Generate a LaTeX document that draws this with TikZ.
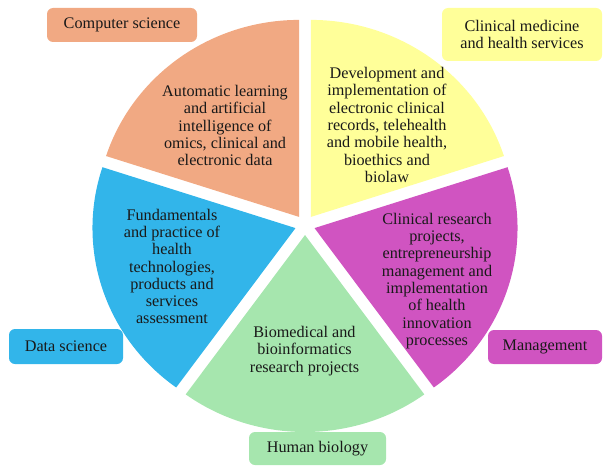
\documentclass[tikz,border=0pt]{standalone}
\usepackage{fontspec}
\setmainfont{Liberation Serif}
\definecolor{cOrange}{RGB}{241,169,131}
\definecolor{cYellow}{RGB}{255,255,153}
\definecolor{cBlue}{RGB}{50,181,234}
\definecolor{cMagenta}{RGB}{208,84,193}
\definecolor{cGreen}{RGB}{166,230,174}
\tikzset{
  txt/.style={align=center, font=\fontsize{16.2}{17.3}\selectfont, inner sep=0pt, text=black!90},
  lab/.style={rounded corners=6pt, inner sep=0pt, align=center,
    font=\fontsize{16.2}{17.3}\selectfont, text=black!90},
}
\newcommand{\pieSector}[2]{%
  \fill[#2] ($(305,242)+(#1:10pt)$) -- ++(#1+36:203pt and 197pt)
    arc[start angle=#1+36, delta angle=-72, x radius=203pt, y radius=197pt] -- cycle;}
\usetikzlibrary{calc}
\begin{document}
\begin{tikzpicture}[x=1pt,y=1pt]
\useasboundingbox (0,0) rectangle (608,467);
\pieSector{54}{cYellow}
\pieSector{126}{cOrange}
\pieSector{198}{cBlue}
\pieSector{270}{cGreen}
\pieSector{342}{cMagenta}

\node[txt] (torange) at (225,341.5) {Automatic learning\\and artificial\\intelligence of\\omics, clinical and\\electronic data};
\node[txt] (tyellow) at (387,342) {Development and\\implementation of\\electronic clinical\\records, telehealth\\and mobile health,\\bioethics and\\biolaw};
\node[txt] (tblue) at (172,200.5) {Fundamentals\\and practice of\\health\\technologies,\\products and\\services\\assessment};
\node[txt] (tmagenta) at (437,186) {Clinical research\\projects,\\entrepreneurship\\management and\\implementation\\of health\\innovation\\processes};
\node[txt] (tgreen) at (304.5,116) {Biomedical and\\bioinformatics\\research projects};

\node[lab, fill=cOrange, minimum width=150pt, minimum height=34pt] (lcs) at (122,442) {Computer science};
\node[lab, fill=cYellow, minimum width=160pt, minimum height=53pt] (lcm) at (522,432.5) {Clinical medicine\\and health services};
\node[lab, fill=cBlue, minimum width=114pt, minimum height=35pt] (lds) at (66,120.5) {Data science};
\node[lab, fill=cMagenta, minimum width=114pt, minimum height=34pt] (lmg) at (545,120) {Management};
\node[lab, fill=cGreen, minimum width=137pt, minimum height=33pt] (lhb) at (317.5,18.5) {Human biology};
\end{tikzpicture}
\end{document}
